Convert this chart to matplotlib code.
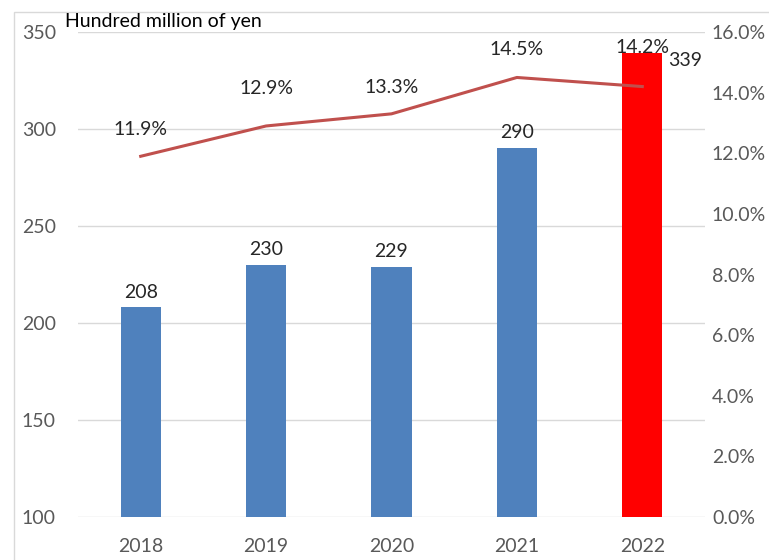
import matplotlib.pyplot as plt
from matplotlib.patches import Rectangle

years = ["2018", "2019", "2020", "2021", "2022"]
sales = [208, 230, 229, 290, 339]
share = [11.9, 12.9, 13.3, 14.5, 14.2]
bar_colors = ["#4F81BD", "#4F81BD", "#4F81BD", "#4F81BD", "#FF0000"]
pct_offsets = [27, 37, 26, 28, 39]  # label lift above the line, in pixels

plt.rcParams["font.family"] = ["Lato", "DejaVu Sans"]
tick_gray = "#595959"
fs = 14

fig = plt.figure(figsize=(7.69, 5.60), dpi=100)
W, H = 769, 560
ax = fig.add_axes([78 / W, 1 - 517 / H, (705 - 78) / W, (517 - 32) / H])

# thin outer frame
fig.patches.append(Rectangle((14 / W, -0.1), 2, 1 - 12 / H + 0.1,
                             transform=fig.transFigure, fill=False,
                             edgecolor="#D9D9D9", linewidth=1))

x = range(len(years))
ax.bar(x, [s - 100 for s in sales], bottom=100, width=0.32, color=bar_colors, zorder=2)
ax.set_xlim(-0.5, 4.5)
ax.set_ylim(100, 350)
ax.set_yticks(range(100, 351, 50))
ax.yaxis.grid(True, color="#D9D9D9", linewidth=1, zorder=0)
ax.set_xticks(list(x))
ax.set_xticklabels(years)
for s in ax.spines.values():
    s.set_visible(False)
ax.tick_params(length=0, labelsize=fs, labelcolor=tick_gray)
ax.tick_params(axis="x", pad=15)
ax.tick_params(axis="y", pad=16)

for i, v in enumerate(sales):
    if i == 4:
        ax.annotate(str(v), (i + 0.16, v), xytext=(4, -5), textcoords="offset points",
                    ha="left", va="center", fontsize=fs, color="#262626")
    else:
        ax.annotate(str(v), (i, v), xytext=(0, 5), textcoords="offset points",
                    ha="center", va="bottom", fontsize=fs, color="#262626")

ax2 = ax.twinx()
ax2.plot(list(x), share, color="#C0504D", linewidth=2.2, zorder=3)
ax2.set_ylim(0, 16)
ax2.set_yticks(range(0, 17, 2))
ax2.set_yticklabels([f"{t:.1f}%" for t in range(0, 17, 2)])
for s in ax2.spines.values():
    s.set_visible(False)
ax2.tick_params(length=0, labelsize=fs, labelcolor=tick_gray, pad=5)

for i, v in enumerate(share):
    ax2.annotate(f"{v}%", (i, v), xytext=(0, pct_offsets[i] * 0.72), textcoords="offset points",
                 ha="center", va="center", fontsize=fs, color="#262626")

fig.text(65 / W, 1 - 22 / H, "Hundred million of yen", ha="left", va="center",
         fontsize=fs, color="black")

fig.savefig("out.png", dpi=100)
